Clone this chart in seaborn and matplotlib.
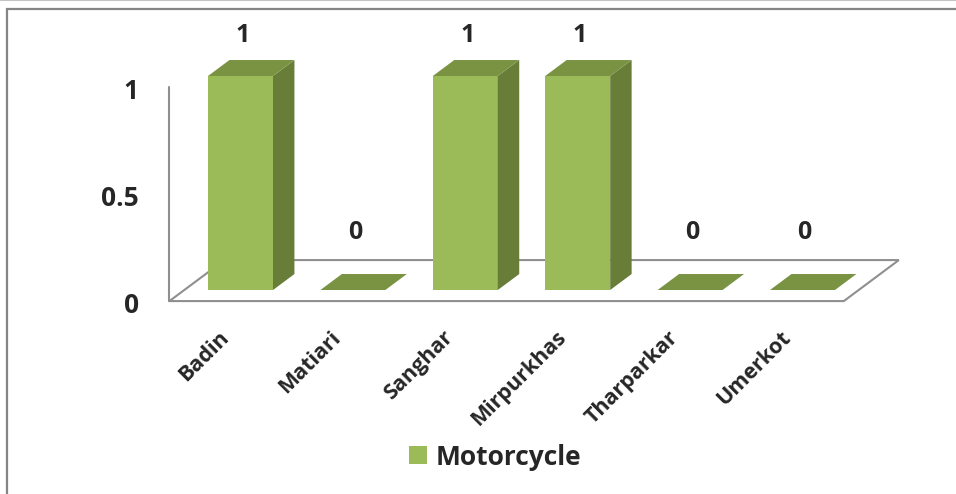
import matplotlib
matplotlib.use("Agg")
import matplotlib.pyplot as plt
from matplotlib.patches import Polygon
from matplotlib.lines import Line2D
import pandas as pd
import seaborn as sns

# ---- data -------------------------------------------------------------
districts = ["Badin", "Matiari", "Sanghar", "Mirpurkhas", "Tharparkar", "Umerkot"]
motorcycle = [1, 0, 1, 1, 0, 0]
series_name = "Motorcycle"
y_ticks = [0, 0.5, 1]
y_tick_labels = ["0", "0.5", "1"]

# ---- style ------------------------------------------------------------
FRONT = "#9BBB59"
SIDE = "#677D38"
TOP = "#7A9343"
AXIS_GRAY = "#8F8F8F"

W, H, DPI = 956, 494, 100
CAT_PX = 112.4          # pixels per category step
VAL_PX = 214.0          # pixels per value unit
ORIGIN_X, ORIGIN_Y = 240.5, 204.0   # category 0 / value 0 on the bars' front plane
BAR_W = 0.578
DEPTH_PX = (55.0, 41.0)  # oblique offset of the full floor depth
BAR_Z0, BAR_Z1 = 0.27, 0.66
DZX, DZY = DEPTH_PX[0] / CAT_PX, DEPTH_PX[1] / VAL_PX


def proj(x, y, z):
    """Oblique projection of (category, value, depth) onto the bar front plane."""
    return (x + (z - BAR_Z0) * DZX, y + (z - BAR_Z0) * DZY)


sns.set_theme(style="white")
plt.rcParams["font.family"] = ["Open Sans", "DejaVu Sans"]
plt.rcParams["font.weight"] = "bold"

fig = plt.figure(figsize=(W / DPI, H / DPI), dpi=DPI)
ax = fig.add_axes([0, 0, 1, 1])

df = pd.DataFrame({"district": districts, "value": motorcycle,
                   "series": [series_name] * len(districts)})
sns.barplot(data=df, x="district", y="value", hue="series", palette=[FRONT],
            width=BAR_W, saturation=1, linewidth=0, ax=ax, zorder=3)

# 3-D side and top faces of every bar
depth = BAR_Z1 - BAR_Z0
for p in list(ax.patches):
    x0, w, h = p.get_x(), p.get_width(), p.get_height()
    x1 = x0 + w
    dx, dy = depth * DZX, depth * DZY
    side = [(x1, 0), (x1, h), (x1 + dx, h + dy), (x1 + dx, dy)]
    top = [(x0, h), (x1, h), (x1 + dx, h + dy), (x0 + dx, h + dy)]
    if h > 0:
        ax.add_patch(Polygon(side, closed=True, facecolor=SIDE, lw=0, zorder=3))
    ax.add_patch(Polygon(top, closed=True, facecolor=TOP, lw=0, zorder=3))

# floor outline and vertical axis
n = len(districts)
xl, xr = -0.5, n - 0.5
floor = [proj(xl, 0, 0), proj(xr, 0, 0), proj(xr, 0, 1), proj(xl, 0, 1), proj(xl, 0, 0)]
ax.plot([p[0] for p in floor], [p[1] for p in floor], color=AXIS_GRAY, lw=1.5,
        zorder=1, solid_joinstyle="miter")
a0, a1 = proj(xl, 0, 0), proj(xl, max(y_ticks), 0)
ax.plot([a0[0], a1[0]], [a0[1], a1[1]], color=AXIS_GRAY, lw=1.5, zorder=1)

# value tick labels
for v, lab in zip(y_ticks, y_tick_labels):
    px, py = proj(xl, v, 0)
    ax.annotate(lab, (px, py), xytext=(-22, -3), textcoords="offset points",
                ha="right", va="center", fontsize=19, fontweight="bold")

# category labels
for i, name in enumerate(districts):
    px, py = proj(i, 0, 0)
    ax.annotate(name, (px, py), xytext=(0, -24), textcoords="offset points",
                ha="right", va="center", rotation=45, rotation_mode="anchor",
                fontsize=15.5, fontweight="bold")

# value labels, kept below the top of the plot area
for i, v in enumerate(motorcycle):
    ax.text(i + 0.02, min(v + 0.27, 1.19), f"{v:g}", ha="center", va="center",
            fontsize=18, fontweight="bold", zorder=4)

ax.set_xlim((0 - ORIGIN_X) / CAT_PX, (W - ORIGIN_X) / CAT_PX)
ax.set_ylim((0 - ORIGIN_Y) / VAL_PX, (H - ORIGIN_Y) / VAL_PX)
ax.axis("off")

sns.move_legend(ax, "center", bbox_to_anchor=(495.5 / W, 37 / H), frameon=False,
                title=None, fontsize=19, handlelength=0.65, handleheight=0.65,
                handletextpad=0.35, borderaxespad=0, borderpad=0)
for t in ax.get_legend().get_texts():
    t.set_fontweight("bold")

# chart frame
fig.add_artist(Line2D([0, 1], [1 - 0.5 / H, 1 - 0.5 / H], transform=fig.transFigure,
                      color="#C4C4C4", lw=0.8))
fig.add_artist(Line2D([7 / W, 7 / W, 1], [0, 1 - 9.5 / H, 1 - 9.5 / H],
                      transform=fig.transFigure, color="#858585", lw=1.6,
                      solid_joinstyle="miter"))

fig.savefig("out.png", dpi=DPI)
